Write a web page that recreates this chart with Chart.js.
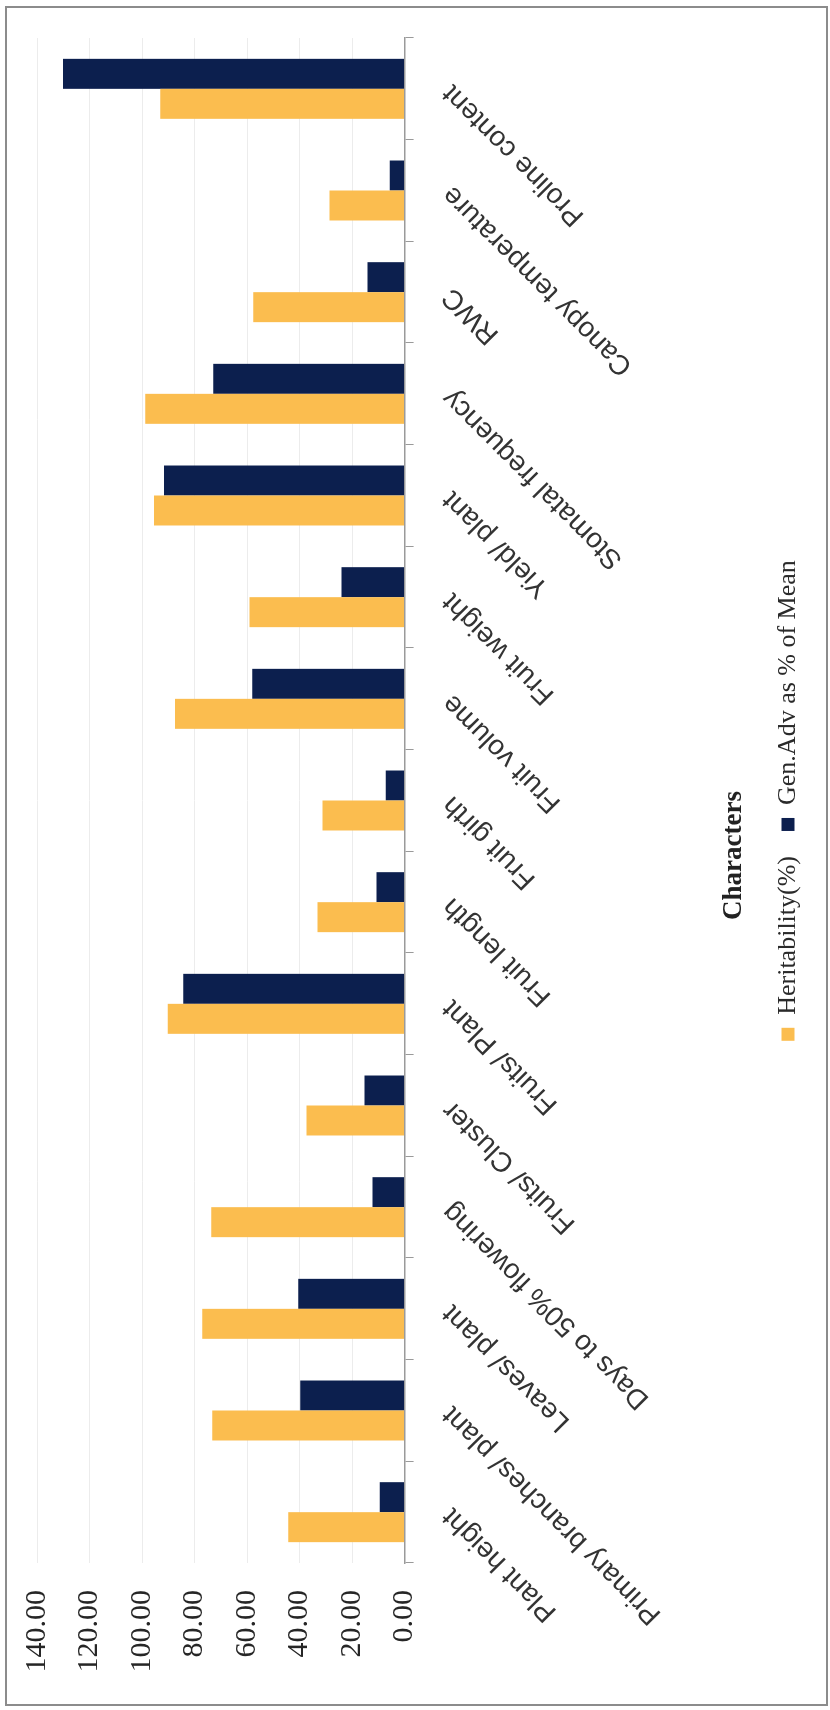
<!DOCTYPE html>
<html>
<head>
<meta charset="utf-8">
<script src="https://cdn.jsdelivr.net/npm/chart.js@4/dist/chart.umd.min.js"></script>
<style>
  html, body { margin: 0; padding: 0; background: #fff; }
  body { width: 830px; height: 1710px; position: relative; overflow: hidden; }
  /* the chart is drawn upright, then turned a quarter left like the scan */
  #rot {
    position: absolute; left: 0; top: 0;
    width: 1710px; height: 830px;
    transform-origin: 0 0;
    transform: translateY(1710px) rotate(-90deg);
  }
  #frame {
    position: absolute; left: 5px; top: 6px;
    width: 823px; height: 1700px;
    box-sizing: border-box;
    border: 2px solid #8c8c8c;
    pointer-events: none;
  }
</style>
</head>
<body>
<div id="rot"><canvas id="chart" width="1710" height="830"></canvas></div>
<div id="frame"></div>
<script>
// categories, left to right in the upright chart
const characters = [
  'Plant height', 'Primary branches/ plant', 'Leaves/ plant', 'Days to 50% flowering',
  'Fruits/ Cluster', 'Fruits/ Plant', 'Fruit length', 'Fruit girth', 'Fruit volume',
  'Fruit weight', 'Yield/ plant', 'Stomatal frequency', 'RWC', 'Canopy temperature',
  'Proline content'
];
const heritability = [44.3, 73.3, 77.1, 73.6, 37.4, 90.2, 33.2, 31.3, 87.4, 59.1, 95.4, 98.8, 57.6, 28.6, 93.1];
const genAdv = [9.5, 39.7, 40.5, 12.2, 15.3, 84.3, 10.7, 7.2, 58.0, 24.0, 91.6, 72.9, 14.1, 5.7, 130.1];
const yTicks = [0, 20, 40, 60, 80, 100, 120, 140];

const serif = "'Liberation Serif', 'Times New Roman', serif";
const sans = "'Liberation Sans', Arial, sans-serif";

const ctx = document.getElementById('chart').getContext('2d');
new Chart(ctx, {
  type: 'bar',
  data: {
    labels: characters,
    datasets: [
      { label: 'Heritability(%)', data: heritability, backgroundColor: '#FBBD4F', borderWidth: 0 },
      { label: 'Gen.Adv as % of Mean', data: genAdv, backgroundColor: '#0C1F4E', borderWidth: 0 }
    ]
  },
  options: {
    responsive: false,
    animation: false,
    layout: { padding: { left: 37, right: 38, top: 37, bottom: 19 } },
    datasets: { bar: { categoryPercentage: 0.59, barPercentage: 1.0 } },
    scales: {
      x: {
        grid: { offset: true, drawOnChartArea: false, drawTicks: true, tickLength: 9, color: '#9a9a9a' },
        border: { display: true, color: '#9a9a9a', width: 1.5 },
        ticks: {
          autoSkip: false, minRotation: 45, maxRotation: 45, padding: 22,
          color: '#333', font: { family: sans, size: 28 }
        },
        // fixed band under the axis so the title and legend sit where the scan has them
        afterFit: s => { s.height = 280; s.paddingLeft = 0; s.paddingRight = 0; }
      },
      y: {
        min: 0, max: 140,
        afterBuildTicks: axis => { axis.ticks = yTicks.map(v => ({ value: v })); },
        // tick padding would otherwise push the plot top down
        afterFit: s => { s.width = 110; s.paddingTop = 0; s.paddingBottom = 0; },
        grid: { color: '#ececec', drawTicks: false },
        border: { display: false },
        ticks: {
          padding: 27, color: '#262626', font: { family: serif, size: 30 },
          callback: v => Number(v).toFixed(2)
        }
      }
    },
    plugins: {
      tooltip: { enabled: false },
      title: {
        display: true, text: 'Characters', position: 'bottom', weight: 500,
        color: '#222', font: { family: serif, size: 27, weight: 'bold' },
        padding: { top: 33, bottom: 0 }
      },
      legend: {
        position: 'bottom', fullSize: false,
        labels: {
          boxWidth: 13, boxHeight: 13, padding: 25,
          color: '#2a2a2a', font: { family: serif, size: 26 }
        }
      }
    }
  }
});
</script>
</body>
</html>
